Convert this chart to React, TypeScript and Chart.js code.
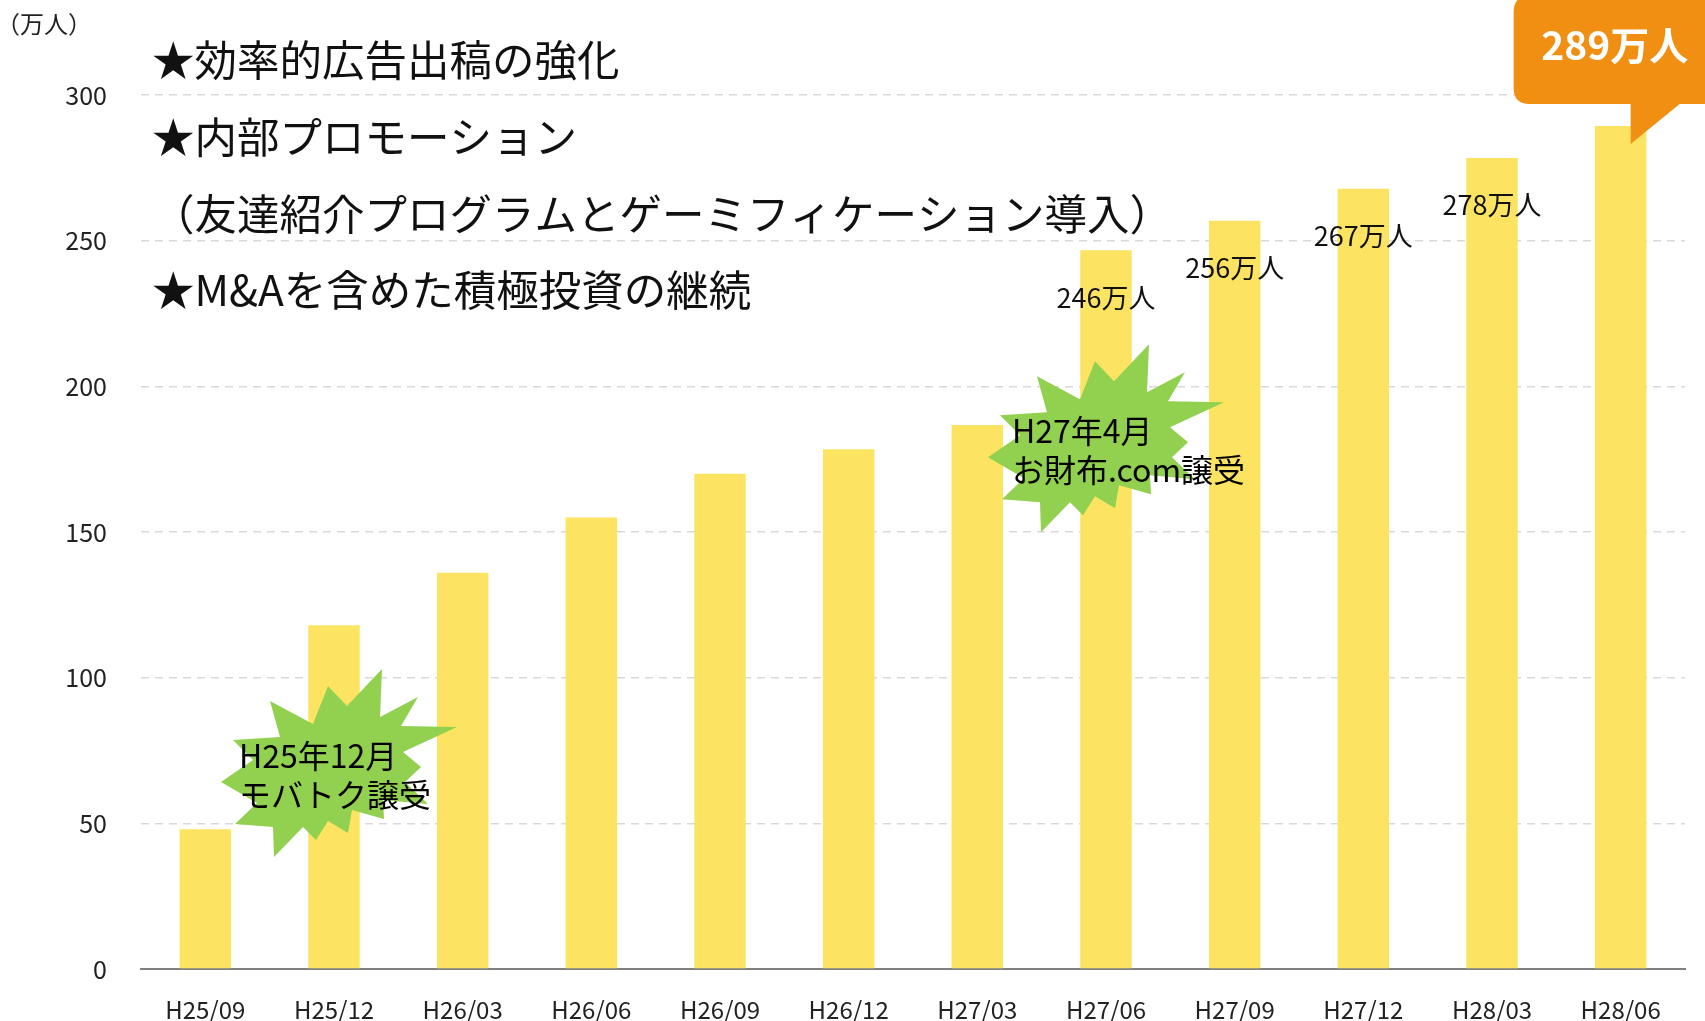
import React, { useEffect, useRef } from "react";
import { Chart, registerables } from "chart.js";

Chart.register(...registerables);

// ---- data ----
const categories = ["H25/09", "H25/12", "H26/03", "H26/06", "H26/09", "H26/12", "H27/03", "H27/06", "H27/09", "H27/12", "H28/03", "H28/06"];
const users = [48, 118, 136, 155, 170, 178.4, 186.7, 246.7, 256.8, 267.8, 278.4, 289.4];
const labeledIndices = [7, 8, 9, 10];
const highlightIndex = 11;
const yTickValues = [0, 50, 100, 150, 200, 250, 300];
const unitLabel = "（万人）";
const valueSuffix = "万人";
const headlineLines = [
  "★効率的広告出稿の強化",
  "★内部プロモーション",
  "（友達紹介プログラムとゲーミフィケーション導入）",
  "★M&Aを含めた積極投資の継続",
];
const burstCategories = [1, 7];
const burstValues = [70, 181.5];
const burstTexts = [
  ["H25年12月", "モバトク譲受"],
  ["H27年4月", "お財布.com譲受"],
];

// ---- styles ----
const FONT = "'Noto Sans CJK JP', 'Noto Sans', sans-serif";
const BAR_COLOR = "#FCE462";
const BURST_COLOR = "#92D050";
const CALLOUT_COLOR = "#F18F12";
const STAR_SHAPE: [number, number][] = [
  [48, -96], [46, -48], [84, -68], [67, -39], [123, -38], [69, -13], [87, 2], [71, 17],
  [94, 39], [49, 35], [50, 54], [18, 45], [14, 68], [-6, 56], [-18, 75], [-31, 62],
  [-60, 92], [-61, 62], [-99, 59], [-77, 38], [-113, 17], [-81, -5], [-101, -25], [-54, -28],
  [-64, -64], [-21, -41], [-6, -79], [13, -59],
];

const label = (v: number) => Math.floor(v) + valueSuffix;

const overlayPlugin = {
  id: "overlay",
  afterDatasetsDraw(chart: any) {
    const ctx: CanvasRenderingContext2D = chart.ctx;
    const xs = chart.scales.x;
    const ys = chart.scales.y;
    ctx.save();

    // unit label
    ctx.fillStyle = "#222";
    ctx.font = `24px ${FONT}`;
    ctx.textAlign = "left";
    ctx.textBaseline = "middle";
    ctx.fillText(unitLabel, -4, 24);

    // headlines
    ctx.fillStyle = "#111";
    ctx.font = `42.5px ${FONT}`;
    headlineLines.forEach((t, i) => {
      ctx.fillText(t, 152, 60 + i * 76.7);
    });

    // value labels
    ctx.font = `27px ${FONT}`;
    ctx.textAlign = "center";
    labeledIndices.forEach((i) => {
      const x = xs.getPixelForValue(i);
      const y = ys.getPixelForValue(users[i]);
      ctx.fillText(label(users[i]), x, y + 47);
    });

    // bursts
    burstCategories.forEach((c, k) => {
      const cx = xs.getPixelForValue(c) - (k === 1 ? 5 : 0);
      const cy = ys.getPixelForValue(burstValues[k]);
      ctx.beginPath();
      STAR_SHAPE.forEach(([dx, dy], j) => {
        if (j === 0) ctx.moveTo(cx + dx, cy + dy);
        else ctx.lineTo(cx + dx, cy + dy);
      });
      ctx.closePath();
      ctx.fillStyle = BURST_COLOR;
      ctx.fill();
      ctx.fillStyle = "#000";
      ctx.font = `32px ${FONT}`;
      ctx.textAlign = "left";
      ctx.textBaseline = "middle";
      burstTexts[k].forEach((t, j) => {
        ctx.fillText(t, cx - (k === 1 ? 89 : 95), cy - 9 + j * 38.5);
      });
    });

    // callout
    const bx = xs.getPixelForValue(highlightIndex);
    const by = ys.getPixelForValue(users[highlightIndex]);
    const left = bx - 107;
    const top = by - 130;
    const bottom = by - 22;
    const right = chart.width + 20;
    const r = 16;
    ctx.fillStyle = CALLOUT_COLOR;
    ctx.beginPath();
    ctx.moveTo(left + r, top);
    ctx.lineTo(right, top);
    ctx.lineTo(right, bottom);
    ctx.lineTo(bx + 59, bottom);
    ctx.lineTo(bx + 10, by + 18);
    ctx.lineTo(bx + 10, bottom);
    ctx.lineTo(left + r, bottom);
    ctx.quadraticCurveTo(left, bottom, left, bottom - r);
    ctx.lineTo(left, top + r);
    ctx.quadraticCurveTo(left, top, left + r, top);
    ctx.closePath();
    ctx.fill();
    ctx.fillStyle = "#fff";
    ctx.font = `bold 39px ${FONT}`;
    ctx.textAlign = "center";
    ctx.textBaseline = "middle";
    ctx.fillText(label(users[highlightIndex]), bx - 6, by - 81);

    ctx.restore();
  },
};

export default function App() {
  const ref = useRef<HTMLCanvasElement>(null);
  useEffect(() => {
    const chart = new Chart(ref.current as HTMLCanvasElement, {
      type: "bar",
      data: {
        labels: categories,
        datasets: [
          {
            data: users,
            backgroundColor: BAR_COLOR,
            borderWidth: 0,
            categoryPercentage: 1,
            barPercentage: 0.4,
          },
        ],
      },
      options: {
        animation: false,
        responsive: true,
        maintainAspectRatio: false,
        layout: { padding: { top: 95, right: 20, bottom: 0, left: 0 } },
        plugins: { legend: { display: false }, tooltip: { enabled: false } },
        scales: {
          x: {
            grid: { display: false, drawTicks: false },
            border: { display: true, color: "#808080", width: 2 },
            ticks: { color: "#222", font: { family: FONT, size: 24 }, padding: 26, maxRotation: 0 },
            afterFit: (s: any) => {
              s.height = 52;
            },
          },
          y: {
            min: 0,
            max: 300,
            afterBuildTicks: (s: any) => {
              s.ticks = yTickValues.map((v) => ({ value: v }));
            },
            grid: { color: "#d9d9d9", lineWidth: 1.5, drawTicks: false },
            border: { display: false, dash: [8, 6] },
            ticks: { color: "#222", font: { family: FONT, size: 25 }, padding: 34 },
            afterFit: (s: any) => {
              s.width = 141;
            },
          },
        },
      },
      plugins: [overlayPlugin],
    });
    return () => chart.destroy();
  }, []);
  return (
    <div style={{ position: "fixed", left: 0, top: 0, width: 1705, height: 1021, background: "#fff" }}>
      <canvas ref={ref} />
    </div>
  );
}
